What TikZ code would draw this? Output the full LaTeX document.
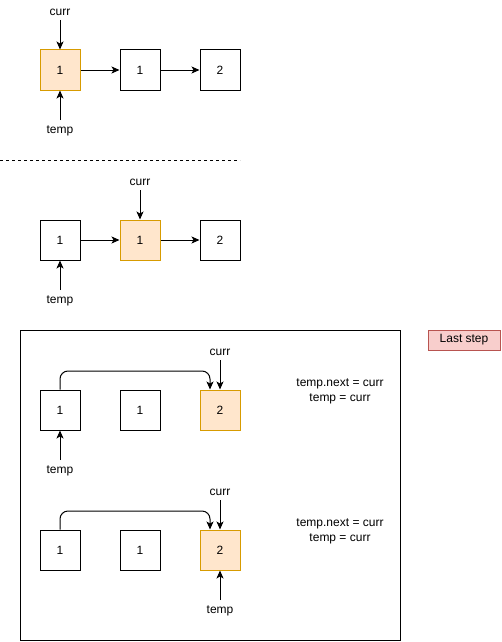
\documentclass[tikz,border=0pt]{standalone}
\usepackage{fontspec}
\setmainfont{Liberation Sans}
\usetikzlibrary{arrows.meta}
\begin{document}
\begin{tikzpicture}[x=1pt,y=-1pt,
  font=\fontsize{12}{15}\selectfont,
  box/.style={draw=black,line width=1pt,fill=white,minimum width=40pt,minimum height=40pt,inner sep=0pt},
  hl/.style={box,draw={rgb,255:red,215;green,155;blue,0},fill={rgb,255:red,255;green,230;blue,204}},
  lbl/.style={inner sep=0pt},
  arr/.style={-{Stealth[length=8pt,width=7pt,inset=2pt]},line width=1pt},
  frame/.style={draw=black,line width=1pt},
  tag/.style={draw={rgb,255:red,184;green,84;blue,80},fill={rgb,255:red,248;green,206;blue,204},line width=1pt,minimum width=72pt,minimum height=20pt,inner sep=0pt}
]
\useasboundingbox (0,0) rectangle (501,642);
% frame
\draw[frame] (20,330) rectangle (400,640);
\node[tag] (last) at (464,340) {Last step};

% row 1
\node[hl] (a1) at (60,70) {1};
\node[box] (a2) at (140,70) {1};
\node[box] (a3) at (220,70) {2};
\node[lbl] (ac) at (60,12) {curr};
\node[lbl] (at) at (60,131) {temp};
\coordinate (acs) at (60,20);
\coordinate (ats) at (60,120);
\draw[arr] (acs) -- (a1.north);
\draw[arr] (ats) -- (a1.south);
\draw[arr] (a1) -- (a2);
\draw[arr] (a2) -- (a3);

% dashed separator
\coordinate (d1) at (0,160);
\coordinate (d2) at (240,160);
\draw[dash pattern=on 3pt off 3pt,line width=1pt] (d1) -- (d2);

% row 2
\node[box] (b1) at (60,240) {1};
\node[hl] (b2) at (140,240) {1};
\node[box] (b3) at (220,240) {2};
\node[lbl] (bc) at (140,182) {curr};
\node[lbl] (bt) at (60,301) {temp};
\coordinate (bcs) at (140,190);
\coordinate (bts) at (60,290);
\draw[arr] (bcs) -- (b2.north);
\draw[arr] (bts) -- (b1.south);
\draw[arr] (b1) -- (b2);
\draw[arr] (b2) -- (b3);

% row 3
\node[box] (c1) at (60,410) {1};
\node[box] (c2) at (140,410) {1};
\node[hl] (c3) at (220,410) {2};
\node[lbl] (cc) at (220,352) {curr};
\node[lbl] (ct) at (60,471) {temp};
\coordinate (ccs) at (220,360);
\coordinate (cts) at (60,460);
\draw[arr] (ccs) -- (c3.north);
\draw[arr] (cts) -- (c1.south);
\coordinate (ck) at (210,371);
\draw[arr,rounded corners=8pt] (c1.north) |- (ck) -- (ck |- c3.north);
\node[lbl,align=center] (ctxt) at (340,391) {temp.next = curr\\temp = curr};

% row 4
\node[box] (e1) at (60,550) {1};
\node[box] (e2) at (140,550) {1};
\node[hl] (e3) at (220,550) {2};
\node[lbl] (ec) at (220,492) {curr};
\node[lbl] (et) at (220,611) {temp};
\coordinate (ecs) at (220,500);
\coordinate (ets) at (220,600);
\draw[arr] (ecs) -- (e3.north);
\draw[arr] (ets) -- (e3.south);
\coordinate (ek) at (210,511);
\draw[arr,rounded corners=8pt] (e1.north) |- (ek) -- (ek |- e3.north);
\node[lbl,align=center] (etxt) at (340,531) {temp.next = curr\\temp = curr};
\end{tikzpicture}
\end{document}
